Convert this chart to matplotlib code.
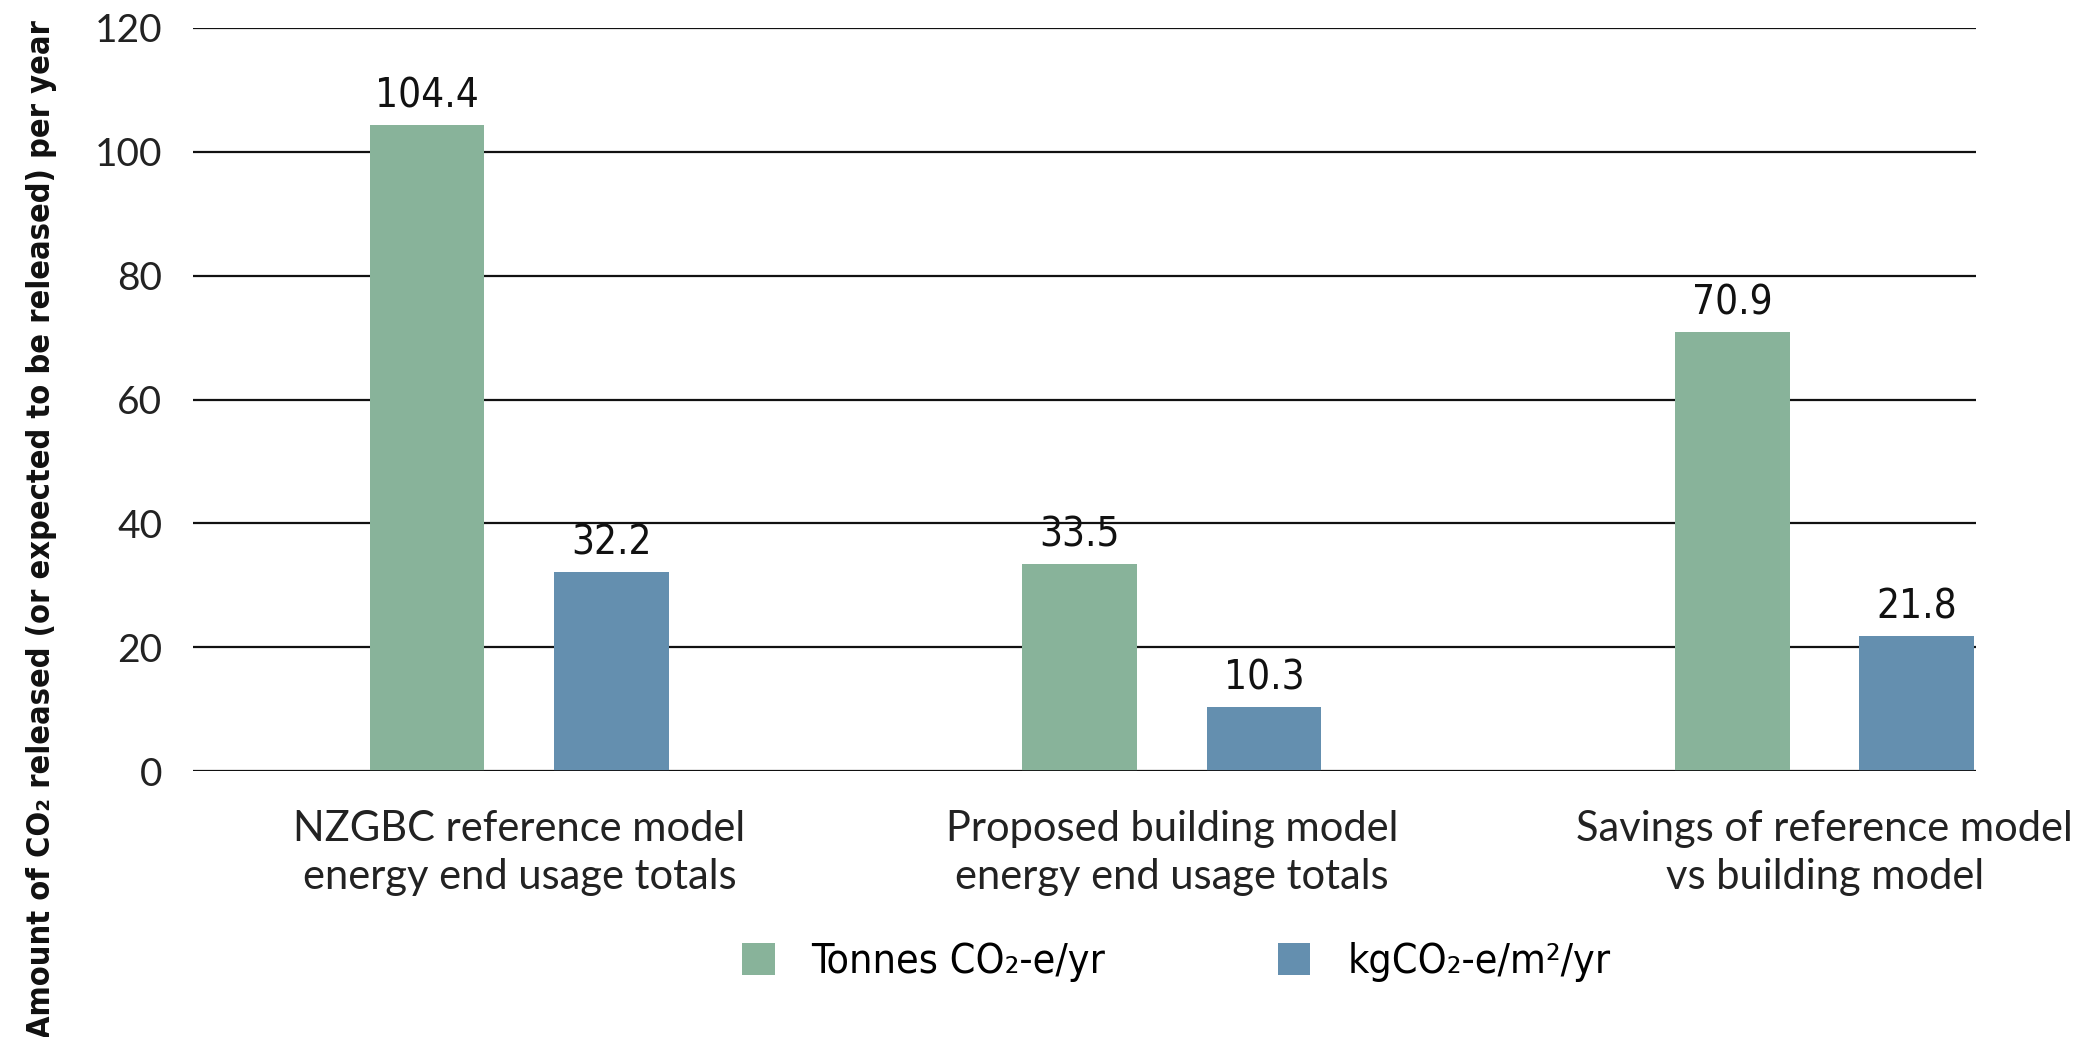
import matplotlib
matplotlib.use("Agg")
import matplotlib.pyplot as plt
from matplotlib.patches import Patch
from matplotlib.font_manager import FontProperties
import numpy as np

categories = ["NZGBC reference model\nenergy end usage totals",
              "Proposed building model\nenergy end usage totals",
              "Savings of reference model\nvs building model"]
tonnes = [104.4, 33.5, 70.9]
kg_per_m2 = [32.2, 10.3, 21.8]
series_labels = ["Tonnes CO\u2082-e/yr", "kgCO\u2082-e/m\u00b2/yr"]
yticks = [0, 20, 40, 60, 80, 100, 120]

green = "#88B39A"
blue = "#648FAF"


def narrow(size, weight="normal"):
    return FontProperties(family="DejaVu Sans", stretch="condensed",
                          weight=weight, size=size)


fig = plt.figure(figsize=(20.89, 10.37), dpi=100)
ax = fig.add_axes([193 / 2089, 1 - 771 / 1037, (1976 - 193) / 2089, (771 - 28) / 1037])

x = np.arange(len(categories))
w = 0.1755
b1 = ax.bar(x - 0.1418, tonnes, width=w, color=green, zorder=3)
b2 = ax.bar(x + 0.1408, kg_per_m2, width=w, color=blue, zorder=3)

for bars, vals in ((b1, tonnes), (b2, kg_per_m2)):
    for r, v in zip(bars, vals):
        ax.annotate(f"{v:.1f}", (r.get_x() + r.get_width() / 2, v),
                    xytext=(0, 6), textcoords="offset points",
                    ha="center", va="bottom", fontproperties=narrow(29),
                    color="#111111")

ax.set_ylim(0, 120)
ax.set_xlim(-0.5, 2.2316)
ax.set_yticks(yticks)
ax.set_yticklabels([str(t) for t in yticks], fontsize=28, family="Lato",
                   color="#222222")
ax.yaxis.grid(True, color="#111111", linewidth=1.6, zorder=0)
ax.axhline(0, color="#111111", linewidth=2.0, zorder=4)
ax.tick_params(axis="y", length=0, pad=22)
ax.tick_params(axis="x", length=0, pad=28)
ax.set_xticks(x)
ax.set_xticklabels(categories, fontsize=30, family="Lato", color="#222222",
                   linespacing=1.32)
for s in ax.spines.values():
    s.set_visible(False)

fig.text(0.02, 0.49,
         "Amount of CO\u2082 released (or expected to be released) per year",
         rotation=90, ha="center", va="center",
         fontproperties=narrow(23.3, "bold"), color="#111111")

handles = [Patch(facecolor=green), Patch(facecolor=blue)]
leg = fig.legend(handles, series_labels, loc="center",
                 bbox_to_anchor=(0.563, 0.072), ncol=2, frameon=False,
                 prop=narrow(29.5),
                 handlelength=0.8, handleheight=0.8, handletextpad=0.9,
                 columnspacing=4.2)

fig.savefig("out.png", dpi=100)
